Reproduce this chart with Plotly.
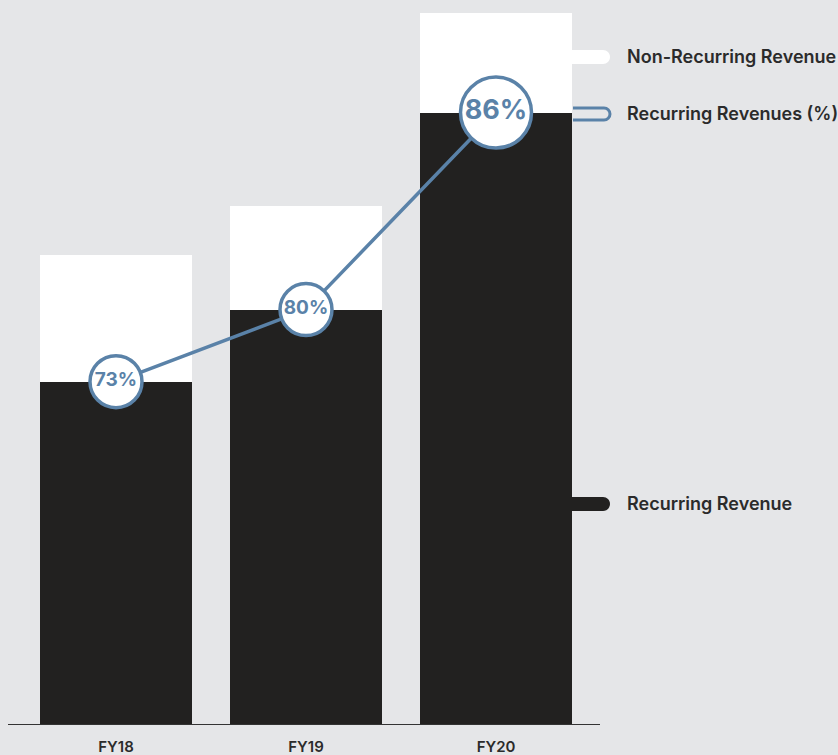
import plotly.graph_objects as go

# Revenue data
years = ["FY18", "FY19", "FY20"]
total_revenue = [46.9, 51.8, 71.1]
recurring_pct = [73, 80, 86]

recurring_revenue = [t * p / 100 for t, p in zip(total_revenue, recurring_pct)]
non_recurring_revenue = [t - r for t, r in zip(total_revenue, recurring_revenue)]

legend_labels = ["Non-Recurring Revenue", "Recurring Revenues (%)", "Recurring Revenue"]

# Styling
BG = "#e5e6e8"
BLACK = "#222120"
WHITE = "#ffffff"
BLUE = "#5a82a8"
TEXT = "#2b2b2b"
FONT = "Inter"

W, H = 838, 755
M_L, M_R, M_T, M_B = 8, 238, 13, 31
PLOT_W = W - M_L - M_R
PLOT_H = H - M_T - M_B

circle_sizes = [52, 52, 71]
label_sizes = [19, 19, 27]

xs = list(range(len(years)))

fig = go.Figure()
fig.add_trace(go.Bar(
    x=xs, y=recurring_revenue, width=0.8,
    marker=dict(color=BLACK, line=dict(width=0)),
    hoverinfo="skip", showlegend=False,
))
fig.add_trace(go.Bar(
    x=xs, y=non_recurring_revenue, width=0.8,
    marker=dict(color=WHITE, line=dict(width=0)),
    hoverinfo="skip", showlegend=False,
))
fig.add_trace(go.Scatter(
    x=xs, y=recurring_revenue,
    mode="lines+markers+text",
    line=dict(color=BLUE, width=3.5),
    marker=dict(size=circle_sizes, color=WHITE, opacity=1,
                line=dict(color=BLUE, width=3.5)),
    opacity=1,
    text=[f"{p}%" for p in recurring_pct],
    textposition="middle center",
    textfont=dict(family=FONT, size=label_sizes, color=BLUE, weight=700),
    hoverinfo="skip", showlegend=False,
))


def px_to_paper(px, py):
    return (px - M_L) / PLOT_W, (M_T + PLOT_H - py) / PLOT_H


def pill_path(x0, x1, yc, h, close_left=True):
    r = h / 2
    k = 0.5523 * r
    pts = [
        ("M", [(x0, yc - r)]),
        ("L", [(x1 - r, yc - r)]),
        ("C", [(x1 - r + k, yc - r), (x1, yc - k), (x1, yc)]),
        ("C", [(x1, yc + k), (x1 - r + k, yc + r), (x1 - r, yc + r)]),
        ("L", [(x0, yc + r)]),
    ]
    parts = []
    for cmd, coords in pts:
        conv = []
        for (a, b) in coords:
            u, v = px_to_paper(a, b)
            conv.append(f"{u:.5f},{v:.5f}")
        parts.append(cmd + " ".join(conv))
    path = " ".join(parts)
    if close_left:
        path += " Z"
    return path


legend_rows = [
    (legend_labels[0], 57, WHITE, WHITE, 0, True),
    (legend_labels[1], 114, BG, BLUE, 3, False),
    (legend_labels[2], 504, BLACK, BLACK, 0, True),
]

shapes = []
annotations = []
for label, yc, fill, edge, lw, closed in legend_rows:
    shapes.append(dict(
        type="path", xref="paper", yref="paper",
        path=pill_path(572 if closed else 573, 610, yc, 14 if lw == 0 else 12, closed),
        fillcolor=fill, line=dict(color=edge, width=lw),
    ))
    ax, ay = px_to_paper(625, yc)
    annotations.append(dict(
        x=ax, y=ay, xref="paper", yref="paper", text=label, showarrow=False,
        xanchor="left", yanchor="middle",
        font=dict(family=FONT, size=18, color=TEXT, weight=600),
    ))

x_left = -(116 - M_L) / 190
x_right = x_left + PLOT_W / 190

fig.update_layout(
    width=W, height=H,
    margin=dict(l=M_L, r=M_R, t=M_T, b=M_B, pad=0, autoexpand=False),
    paper_bgcolor=BG, plot_bgcolor=BG,
    barmode="stack", bargap=0,
    shapes=shapes, annotations=annotations,
    xaxis=dict(
        range=[x_left, x_right], tickmode="array", tickvals=xs, ticktext=years,
        showgrid=False, zeroline=False, showline=True, linecolor="#333333", linewidth=1,
        ticks="outside", ticklen=9, tickcolor="rgba(0,0,0,0)",
        tickfont=dict(family=FONT, size=15, color=TEXT, weight=600),
        automargin=False, fixedrange=True,
    ),
    yaxis=dict(
        range=[0, max(total_revenue)], visible=False, showgrid=False, zeroline=False,
        automargin=False, fixedrange=True,
    ),
    font=dict(family=FONT),
)

fig.write_html("out.html", config=dict(displayModeBar=False))
